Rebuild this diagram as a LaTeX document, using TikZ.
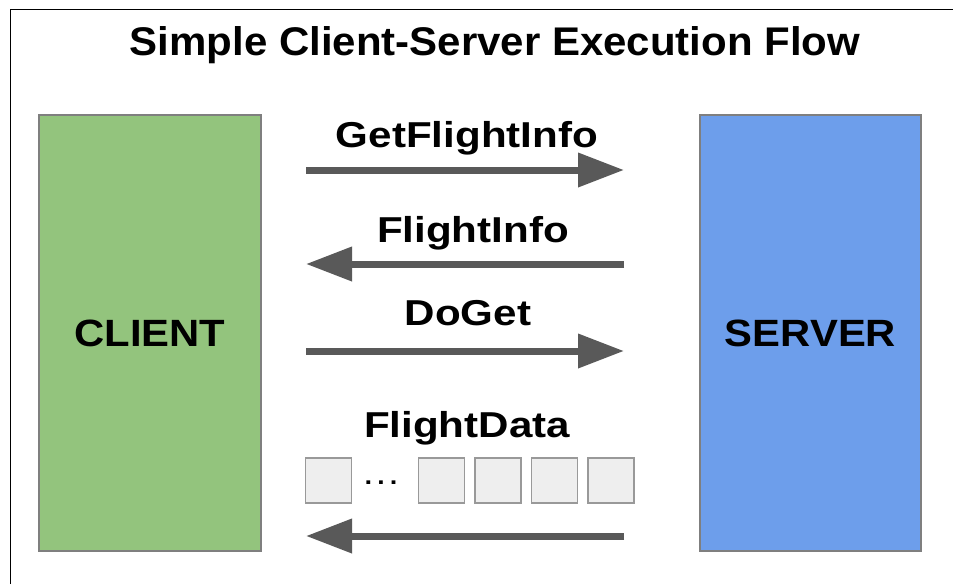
\documentclass[tikz,border=0pt]{standalone}
\usepackage{fontspec}
\setmainfont{Liberation Sans}
\newfontfamily\titlefont[FakeStretch=1.05]{Liberation Sans}
\newfontfamily\labelfont[FakeStretch=1.17]{Liberation Sans}
\newfontfamily\sidefont[FakeStretch=1.1]{Liberation Sans}
\usetikzlibrary{arrows.meta}
\definecolor{clientgreen}{HTML}{93C47D}
\definecolor{serverblue}{HTML}{6D9EEB}
\definecolor{flowgray}{HTML}{595959}
\definecolor{edgegray}{HTML}{7F7F7F}
\definecolor{packetgray}{HTML}{EEEEEE}
\definecolor{packetedge}{HTML}{999999}

\begin{document}
\begin{tikzpicture}[x=1pt, y=-1pt,
        side/.style={draw=edgegray, line width=2pt, minimum height=436pt,
            font=\sidefont\bfseries\fontsize{38}{40}\selectfont},
        msg/.style={anchor=base, font=\labelfont\bfseries\fontsize{36}{40}\selectfont},
        flow/.style={draw=flowgray, line width=7pt,
            -{Triangle[length=46pt, width=33pt]}},
        packet/.style={draw=packetedge, fill=packetgray, line width=1.5pt,
            minimum width=46pt, minimum height=45pt}]
        \useasboundingbox (0, 0) rectangle (953, 584);
        \draw[line width=1.5pt] (10.5, 584) -- (10.5, 9.5) -- (953, 9.5);
        \node[anchor=base, font=\titlefont\bfseries\fontsize{40}{44}\selectfont]
            (title) at (495, 55) {Simple Client-Server Execution Flow};
        \node[side, fill=clientgreen, minimum width=222pt] (client) at (150, 333) {CLIENT};
        \node[side, fill=serverblue, minimum width=221pt] (server) at (810.5, 333) {SERVER};
        % message rows
        \foreach \y/\n in {170/a, 264/b, 351/c, 536/d} {
            \coordinate (\n l) at (306, \y);
            \coordinate (\n r) at (624, \y);
        }
        \node[msg] (getinfo) at (467, 147) {GetFlightInfo};
        \draw[flow] (al) -- (ar);
        \node[msg] (info) at (473, 242) {FlightInfo};
        \draw[flow] (br) -- (bl);
        \node[msg] (doget) at (468, 325) {DoGet};
        \draw[flow] (cl) -- (cr);
        \node[msg] (data) at (467, 437) {FlightData};
        \node[packet] (p0) at (328.5, 480.5) {};
        \node[anchor=base, font=\labelfont\fontsize{34}{40}\selectfont] (dots) at (381, 484) {…};
        \foreach \i in {1, ..., 4}
            \node[packet] (p\i) at ({441.5 + 56.5*(\i-1)}, 480.5) {};
        \draw[flow] (dr) -- (dl);
    \end{tikzpicture}
\end{document}
